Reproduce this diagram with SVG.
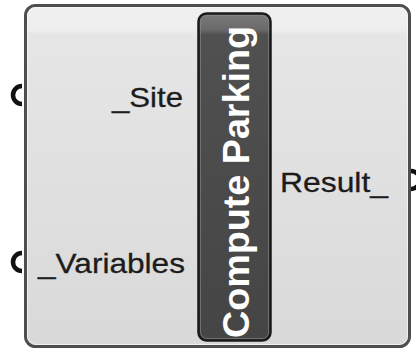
<svg xmlns="http://www.w3.org/2000/svg" width="416" height="349" viewBox="0 0 416 349">
<defs>
<linearGradient id="bodyG" x1="0" y1="0" x2="0" y2="1">
<stop offset="0" stop-color="#f0f0f0"/>
<stop offset="0.07" stop-color="#eeeeee"/>
<stop offset="0.085" stop-color="#e6e6e6"/>
<stop offset="1" stop-color="#d9d9d9"/>
</linearGradient>
<linearGradient id="barG" x1="0" y1="0" x2="0" y2="1">
<stop offset="0" stop-color="#7a7a7a"/>
<stop offset="0.05" stop-color="#6a6a6a"/>
<stop offset="0.065" stop-color="#505050"/>
<stop offset="1" stop-color="#454545"/>
</linearGradient>
</defs>
<style>
.lbl{font-family:"Liberation Sans",Arial,sans-serif;font-size:28px;fill:#1c1c1c;stroke:#1c1c1c;stroke-width:0.3}
.title{font-family:"Liberation Sans",Arial,sans-serif;font-size:37px;font-weight:bold;fill:#ffffff}
.grip{fill:none;stroke:#111111;stroke-width:4.5}
</style>
<g id="grips" class="connectors">
<path class="grip" d="M22 86 A9 9 0 0 0 22 104"/>
<path class="grip" d="M22 253 A9 9 0 0 0 22 271"/>
<path class="grip" d="M411 171 A9 9 0 0 1 411 189"/>
</g>
<g id="component">
<rect x="25.5" y="5.5" width="384" height="341" rx="10" fill="url(#bodyG)" stroke="#4e4e4e" stroke-width="3"/>
<rect x="27.5" y="7.5" width="380" height="337" rx="8.5" fill="none" stroke="#fafafa" stroke-width="1" opacity="0.7"/>
</g>
<g id="bar">
<rect x="198.5" y="13.5" width="72" height="327" rx="8" fill="url(#barG)" stroke="#1a1a1a" stroke-width="2.5"/>
<rect x="200.5" y="15.5" width="68" height="323" rx="6.5" fill="none" stroke="#8a8a8a" stroke-width="1" opacity="0.6"/>
<text class="title" transform="translate(249 182) rotate(-90)" text-anchor="middle" textLength="312" lengthAdjust="spacingAndGlyphs">Compute Parking</text>
</g>
<g id="in-site"><text class="lbl" x="183" y="107" text-anchor="end" textLength="71" lengthAdjust="spacingAndGlyphs">_Site</text></g>
<g id="in-variables"><text class="lbl" x="185" y="273" text-anchor="end" textLength="147" lengthAdjust="spacingAndGlyphs">_Variables</text></g>
<g id="out-result"><text class="lbl" x="280" y="192" textLength="108" lengthAdjust="spacingAndGlyphs">Result_</text></g>
</svg>
